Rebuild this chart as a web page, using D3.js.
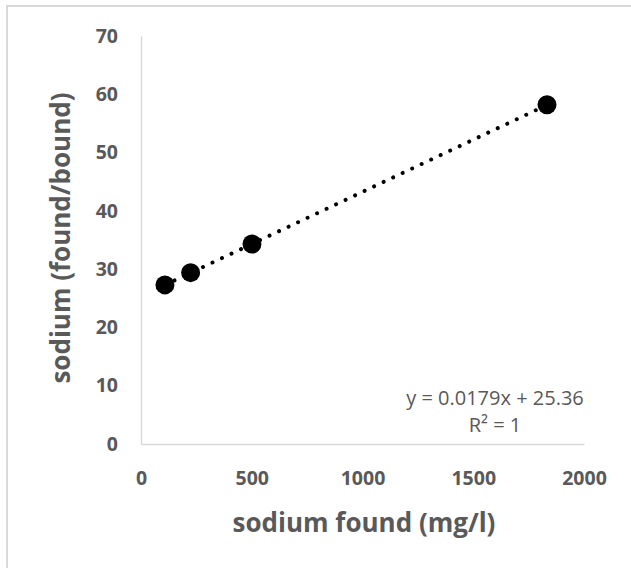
<!DOCTYPE html>
<html>
<head>
<meta charset="utf-8">
<script src="https://cdn.jsdelivr.net/npm/d3@7"></script>
<style>
  body { margin: 0; background: #fff; }
  text { font-family: "Open Sans", sans-serif; fill: #595959; }
</style>
</head>
<body>
<svg width="631" height="568"></svg>
<script>
var sodiumFound = [108, 224, 501, 1833];
var foundBound = [27.3, 29.4, 34.3, 58.2];

// trendline as printed on the chart
var slope = 0.0179;
var intercept = 25.36;
var eqLines = ["y = 0.0179x + 25.36", "R\u00b2 = 1"];

var xTicks = [0, 500, 1000, 1500, 2000];
var yTicks = [0, 10, 20, 30, 40, 50, 60, 70];

var svg = d3.select("svg");

// chart area border (runs off the right/bottom of the picture)
svg.append("rect")
  .attr("x", 7).attr("y", 6)
  .attr("width", 640).attr("height", 580)
  .attr("fill", "#fff")
  .attr("stroke", "#d9d9d9")
  .attr("stroke-width", 2);

var x = d3.scaleLinear().domain([0, 2000]).range([141, 584]);
var y = d3.scaleLinear().domain([0, 70]).range([444, 36]);

// axes: line only, no ticks
var xAxis = svg.append("g")
  .attr("transform", translate(0, y(0)))
  .call(d3.axisBottom(x).tickValues(xTicks).tickSize(0).tickPadding(27)
    .tickFormat(d3.format("d")));

var yAxis = svg.append("g")
  .attr("transform", translate(x(0), 0))
  .call(d3.axisLeft(y).tickValues(yTicks).tickSize(0).tickPadding(23)
    .tickFormat(d3.format("d")));

[xAxis, yAxis].forEach(function(a) {
  a.select(".domain").attr("stroke", "#d9d9d9").attr("stroke-width", 1.5);
  a.selectAll("text")
    .style("font-family", "'Open Sans', sans-serif")
    .style("font-size", "19.5px")
    .style("font-weight", "bold")
    .attr("fill", "#595959");
});

// dotted trendline across the data range
var ext = d3.extent(sodiumFound);
svg.append("line")
  .attr("x1", x(ext[0])).attr("y1", y(slope * ext[0] + intercept))
  .attr("x2", x(ext[1])).attr("y2", y(slope * ext[1] + intercept))
  .attr("stroke", "#000")
  .attr("stroke-width", 4)
  .attr("stroke-linecap", "round")
  .attr("stroke-dasharray", "0.01 10.5");

// markers
svg.append("g").selectAll("circle")
  .data(sodiumFound)
  .enter()
  .append("circle")
  .attr("cx", function(d) { return x(d); })
  .attr("cy", function(d, i) { return y(foundBound[i]); })
  .attr("r", 9.5)
  .attr("fill", "#000");

// equation label
svg.append("g").selectAll("text")
  .data(eqLines)
  .enter()
  .append("text")
  .attr("x", 495)
  .attr("y", function(d, i) { return 398 + i * 27; })
  .attr("dy", "0.35em")
  .attr("text-anchor", "middle")
  .style("font-size", "20px")
  .text(function(d) { return d; });

// axis titles
svg.append("text")
  .attr("x", 364).attr("y", 523)
  .attr("dy", "0.35em")
  .attr("text-anchor", "middle")
  .style("font-size", "26px")
  .style("font-weight", "bold")
  .text("sodium found (mg/l)");

svg.append("text")
  .attr("transform", translate(61, 238) + " rotate(-90)")
  .attr("dy", "0.35em")
  .attr("text-anchor", "middle")
  .style("font-size", "26px")
  .style("font-weight", "bold")
  .text("sodium (found/bound)");

function translate(a, b) {
  return "translate(" + String(a) + "," + String(b) + ")";
}
</script>
</body>
</html>
